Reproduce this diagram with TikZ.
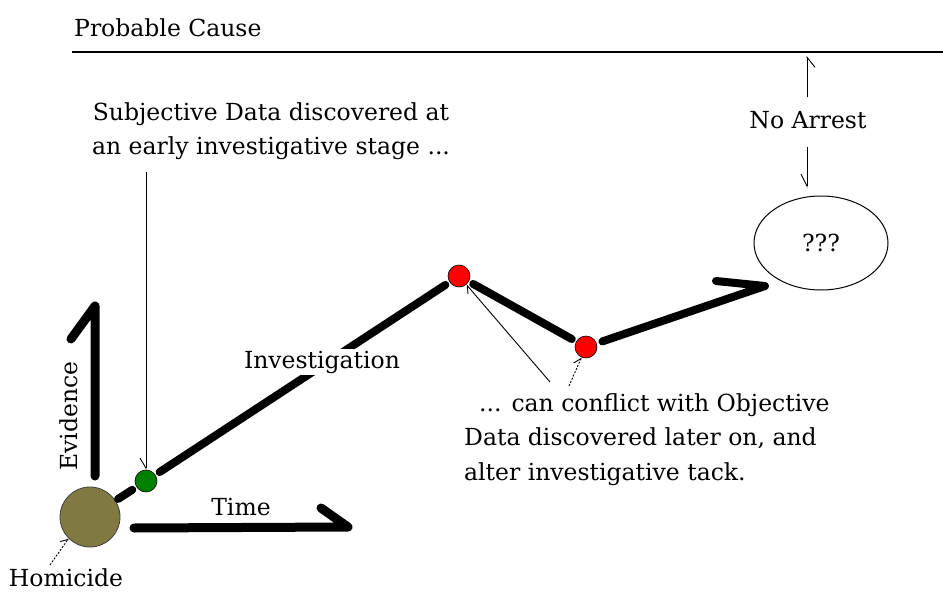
\documentclass[tikz,border=0pt]{standalone}
\usepackage{fontspec}
\setmainfont{DejaVu Serif}
\usetikzlibrary{arrows.meta,shapes.geometric}
\definecolor{olivebrown}{RGB}{128,122,66}
\definecolor{dotgreen}{RGB}{0,128,0}
\definecolor{dotred}{RGB}{255,0,0}
\begin{document}
\begin{tikzpicture}[x=1pt,y=-1pt,
  lbl/.style={font=\fontsize{23.5}{34.5}\selectfont, inner sep=1pt},
  axisline/.style={line width=9pt, line cap=round, line join=round},
  invline/.style={line width=8pt, line cap=round, line join=round},
  thinptr/.style={line width=0.9pt},
  dotnode/.style={circle, draw=black, line width=0.6pt, minimum size=22pt, inner sep=0pt}]
\useasboundingbox (0,0) rectangle (943,594);
\fill[white] (0,0) rectangle (943,594);

% Probable cause
\node[lbl, anchor=west] (pc) at (73,28) {Probable Cause};
\coordinate (pcL) at (72,52);
\coordinate (pcR) at (943,52);
\draw[line width=2pt] (pcL) -- (pcR);

% No arrest
\node[lbl] (na) at (808,120) {No Arrest};
\coordinate (naUpS) at (807,97);
\coordinate (naUpE) at (807,56);
\coordinate (naDnS) at (807,147);
\coordinate (naDnE) at (807,188);
\draw[thinptr, -{Straight Barb[right,length=10pt,width=16pt]}] (naUpS) -- (naUpE);
\draw[thinptr, -{Straight Barb[right,length=12pt,width=12pt]}] (naDnS) -- (naDnE);

% ??? ellipse
\node[ellipse, draw, line width=1pt, minimum width=134pt, minimum height=94pt, lbl] (q) at (821,243) {???};

% Homicide
\node[circle, fill=olivebrown, draw=black!75, line width=0.8pt, minimum size=60pt, inner sep=0pt] (hom) at (90,517) {};
\node[lbl] (homlbl) at (66,578) {Homicide};
\coordinate (homptrS) at (50,565);
\draw[thinptr, dash pattern=on 2pt off 1.5pt, -{Straight Barb[left,length=6pt,width=10pt]}] (homptrS) -- (hom.225);

% Evidence axis
\coordinate (evS) at (95,476);
\coordinate (evE) at (95,306);
\coordinate (evB) at (71,339);
\draw[axisline] (evS) -- (evE) -- (evB);
\node[lbl, rotate=90] (ev) at (69,416) {Evidence};

% Time axis
\coordinate (tS) at (134,528);
\coordinate (tE) at (348,527);
\coordinate (tB) at (321,508);
\draw[axisline] (tS) -- (tE) -- (tB);
\node[lbl] (time) at (241,507) {Time};

% Dots
\node[dotnode, fill=dotgreen] (green) at (146,481) {};
\node[dotnode, fill=dotred] (red1) at (459,276) {};
\node[dotnode, fill=dotred] (red2) at (586,347) {};

% Investigation path
\draw[invline, shorten <=3pt, shorten >=5pt] (hom) -- (green);
\draw[invline, shorten <=5pt, shorten >=5pt] (green) -- (red1);
\node[lbl, fill=white, inner sep=2pt] (inv) at (322,362) {Investigation};
\draw[invline, shorten <=5pt, shorten >=5pt] (red1) -- (red2);
\coordinate (tip) at (765,286);
\coordinate (tipB) at (716,281);
\draw[invline, shorten <=6pt] (red2) -- (tip) -- (tipB);

% Subjective data
\node[lbl, align=center, anchor=north] (subj) at (271,101) {Subjective Data discovered at\\an early investigative stage ...};
\coordinate (subjS) at (146,172);
\draw[thinptr, -{Straight Barb[right,length=10pt,width=12pt]}] (subjS) -- (green);

% Objective data
\node[lbl, align=left, anchor=north west] (obj) at (463,392) {\ \ ... can conflict with Objective\\Data discovered later on, and\\alter investigative tack.};
\coordinate (o1S) at (550,382);
\coordinate (o2S) at (569,386);
\draw[thinptr, -{Straight Barb[left,length=7pt,width=10pt]}] (o1S) -- (red1);
\draw[thinptr, dash pattern=on 2pt off 1.5pt, -{Straight Barb[left,length=7pt,width=10pt]}] (o2S) -- (red2);
\end{tikzpicture}
\end{document}
